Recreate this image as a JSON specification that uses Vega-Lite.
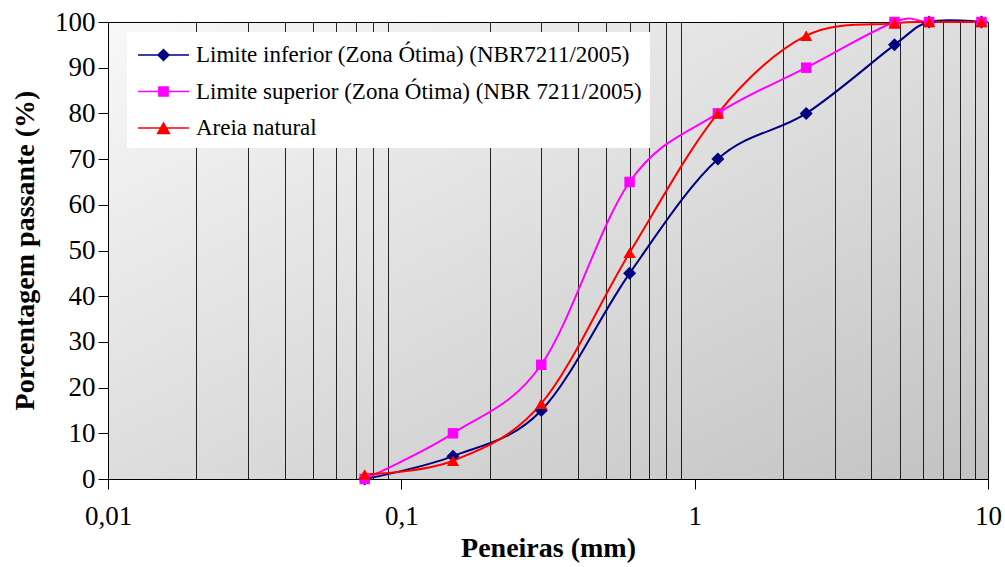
{
  "$schema": "https://vega.github.io/schema/vega-lite/v6.json",
  "width": 880,
  "height": 457,
  "autosize": {"type": "none"},
  "padding": {"left": 108, "top": 22, "right": 17, "bottom": 88},
  "background": "white",
  "config": {
    "font": "Liberation Serif",
    "view": {
      "fill": {"gradient": "linear", "x1": 0, "y1": 0, "x2": 1, "y2": 1,
        "stops": [{"offset": 0, "color": "#f8f8f8"}, {"offset": 1, "color": "#c2c2c2"}]},
      "stroke": "black",
      "strokeWidth": 1
    },
    "axis": {
      "domainColor": "black", "tickColor": "black", "labelColor": "black", "titleColor": "black",
      "labelFont": "Liberation Serif", "titleFont": "Liberation Serif",
      "labelFontSize": 27, "titleFontSize": 28, "titleFontWeight": "bold",
      "domainWidth": 1, "tickWidth": 1, "tickSize": 10
    },
    "legend": {"labelFont": "Liberation Serif"}
  },
  "data": {
    "values": [
      {"serie": "Limite inferior (Zona Ótima) (NBR7211/2005)", "peneira": 0.075, "passante": 0},
      {"serie": "Limite inferior (Zona Ótima) (NBR7211/2005)", "peneira": 0.15, "passante": 5},
      {"serie": "Limite inferior (Zona Ótima) (NBR7211/2005)", "peneira": 0.3, "passante": 15},
      {"serie": "Limite inferior (Zona Ótima) (NBR7211/2005)", "peneira": 0.6, "passante": 45},
      {"serie": "Limite inferior (Zona Ótima) (NBR7211/2005)", "peneira": 1.2, "passante": 70},
      {"serie": "Limite inferior (Zona Ótima) (NBR7211/2005)", "peneira": 2.4, "passante": 80},
      {"serie": "Limite inferior (Zona Ótima) (NBR7211/2005)", "peneira": 4.8, "passante": 95},
      {"serie": "Limite inferior (Zona Ótima) (NBR7211/2005)", "peneira": 6.3, "passante": 100},
      {"serie": "Limite inferior (Zona Ótima) (NBR7211/2005)", "peneira": 9.5, "passante": 100},
      {"serie": "Limite superior (Zona Ótima) (NBR 7211/2005)", "peneira": 0.075, "passante": 0},
      {"serie": "Limite superior (Zona Ótima) (NBR 7211/2005)", "peneira": 0.15, "passante": 10},
      {"serie": "Limite superior (Zona Ótima) (NBR 7211/2005)", "peneira": 0.3, "passante": 25},
      {"serie": "Limite superior (Zona Ótima) (NBR 7211/2005)", "peneira": 0.6, "passante": 65},
      {"serie": "Limite superior (Zona Ótima) (NBR 7211/2005)", "peneira": 1.2, "passante": 80},
      {"serie": "Limite superior (Zona Ótima) (NBR 7211/2005)", "peneira": 2.4, "passante": 90},
      {"serie": "Limite superior (Zona Ótima) (NBR 7211/2005)", "peneira": 4.8, "passante": 100},
      {"serie": "Limite superior (Zona Ótima) (NBR 7211/2005)", "peneira": 6.3, "passante": 100},
      {"serie": "Limite superior (Zona Ótima) (NBR 7211/2005)", "peneira": 9.5, "passante": 100},
      {"serie": "Areia natural", "peneira": 0.075, "passante": 1},
      {"serie": "Areia natural", "peneira": 0.15, "passante": 4},
      {"serie": "Areia natural", "peneira": 0.3, "passante": 16.5},
      {"serie": "Areia natural", "peneira": 0.6, "passante": 49.5},
      {"serie": "Areia natural", "peneira": 1.2, "passante": 80},
      {"serie": "Areia natural", "peneira": 2.4, "passante": 97},
      {"serie": "Areia natural", "peneira": 4.8, "passante": 99.7},
      {"serie": "Areia natural", "peneira": 6.3, "passante": 100},
      {"serie": "Areia natural", "peneira": 9.5, "passante": 100}
    ]
  },
  "encoding": {
    "x": {
      "field": "peneira", "type": "quantitative",
      "scale": {"type": "log", "domain": [0.01, 10], "nice": false},
      "axis": {
        "title": "Peneiras (mm)",
        "values": [0.01, 0.02, 0.03, 0.04, 0.05, 0.06, 0.07, 0.08, 0.09, 0.1, 0.2, 0.3, 0.4, 0.5, 0.6, 0.7, 0.8, 0.9, 1, 2, 3, 4, 5, 6, 7, 8, 9, 10],
        "labelExpr": "datum.value == 0.01 ? '0,01' : datum.value == 0.1 ? '0,1' : datum.value == 1 ? '1' : datum.value == 10 ? '10' : ''",
        "grid": true,
        "gridColor": "black",
        "gridWidth": 1,
        "gridOpacity": {"condition": {"test": "datum.value == 0.01 || datum.value == 0.1 || datum.value == 1 || datum.value == 10", "value": 0}, "value": 0.85},
        "tickOpacity": {"condition": {"test": "datum.value == 0.01 || datum.value == 0.1 || datum.value == 1 || datum.value == 10", "value": 1}, "value": 0},
        "labelPadding": 14,
        "labelFlush": false,
        "labelOverlap": false,
        "titleX": 440,
        "titleY": 77,
        "titleBaseline": "alphabetic"
      }
    },
    "y": {
      "field": "passante", "type": "quantitative",
      "scale": {"domain": [0, 100], "nice": false},
      "axis": {
        "title": "Porcentagem passante (%)",
        "values": [0, 10, 20, 30, 40, 50, 60, 70, 80, 90, 100],
        "grid": false,
        "labelPadding": 3,
        "titleX": -83,
        "titleY": 228,
        "titleBaseline": "middle",
        "titleAngle": 270
      }
    }
  },
  "layer": [
    {
      "mark": {"type": "line", "interpolate": "cardinal", "strokeWidth": 2},
      "encoding": {
        "color": {
          "field": "serie", "type": "nominal",
          "scale": {
            "domain": ["Limite inferior (Zona Ótima) (NBR7211/2005)", "Limite superior (Zona Ótima) (NBR 7211/2005)", "Areia natural"],
            "range": ["#000080", "#FF00FF", "#FF0000"]
          },
          "legend": {
            "title": null,
            "orient": "none",
            "legendX": 19,
            "legendY": 10,
            "fillColor": "white",
            "padding": 8,
            "rowPadding": 9.5,
            "symbolSize": 784,
            "symbolOffset": 13.5,
            "labelOffset": 17.5,
            "labelFontSize": 23,
            "labelColor": "black",
            "labelLimit": 600,
            "symbolStrokeWidth": 1.5,
            "encode": {
              "symbols": {
                "update": {
                  "shape": {"signal": "datum.value == 'Areia natural' ? 'M-1.82,0H1.82M0,-0.36L0.42,0.4H-0.42Z' : (indexof(datum.value, 'superior') >= 0 ? 'M-1.82,0H1.82M-0.33,-0.33H0.33V0.33H-0.33Z' : 'M-1.82,0H1.82M0,-0.39L0.39,0L0,0.39L-0.39,0Z')"},
                  "fill": {"signal": "scale('color', datum.value)"},
                  "stroke": {"signal": "scale('color', datum.value)"},
                  "strokeWidth": {"value": 1.5},
                  "opacity": {"value": 1}
                }
              }
            }
          }
        }
      }
    },
    {
      "transform": [{"filter": "datum.serie == 'Limite inferior (Zona Ótima) (NBR7211/2005)'"}],
      "mark": {"type": "point", "shape": "diamond", "filled": true, "opacity": 1, "color": "#000080", "size": 170}
    },
    {
      "transform": [{"filter": "datum.serie == 'Limite superior (Zona Ótima) (NBR 7211/2005)'"}],
      "mark": {"type": "point", "shape": "square", "filled": true, "opacity": 1, "color": "#FF00FF", "size": 110}
    },
    {
      "transform": [{"filter": "datum.serie == 'Areia natural'"}],
      "mark": {"type": "point", "shape": "triangle-up", "filled": true, "opacity": 1, "color": "#FF0000", "size": 150}
    }
  ]
}
